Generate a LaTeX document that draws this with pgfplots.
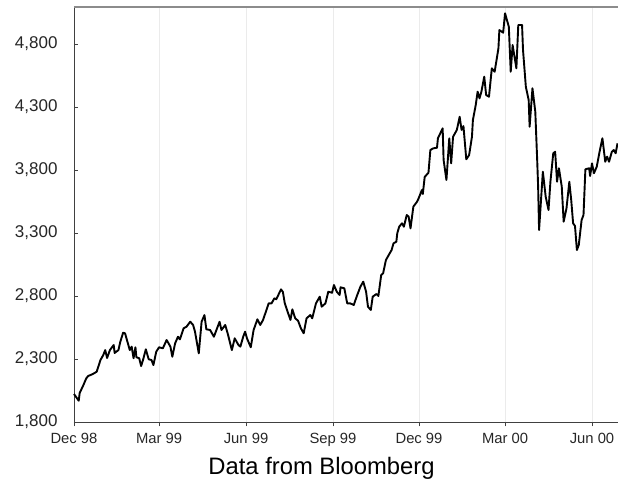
\documentclass[border=0pt]{standalone}
\usepackage{fontspec}
\setmainfont{Liberation Sans}
\usepackage{pgfplots}
\pgfplotsset{compat=1.18}
\begin{document}
\begin{tikzpicture}
\path[use as bounding box] (-74pt,-59pt) rectangle (544pt,422pt);
\begin{axis}[
  at={(0pt,0pt)}, anchor=south west,
  scale only axis,
  width=544pt, height=415pt,
  xmin=0, xmax=575.5,
  ymin=1800, ymax=5094,
  axis lines=left,
  axis line style={-, draw=black!75, line width=0.9pt},
  xtick={0,90,182,274,365,456,548},
  xticklabels={Dec 98,Mar 99,Jun 99,Sep 99,Dec 99,Mar 00,Jun 00},
  ytick={1800,2300,2800,3300,3800,4300,4800},
  /pgf/number format/assume math mode=true,
  /pgf/number format/.cd, 1000 sep={,}, /pgfplots/.cd,
  tick align=inside,
  major tick length=4.5pt,
  tick style={black!75, line width=0.8pt},
  xtick style={yshift=-4.5pt},
  xmajorgrids,
  major grid style={black!8, line width=0.8pt},
  yticklabel style={font=\fontsize{17}{19}\selectfont, text=black!85, xshift=-13pt},
  xticklabel style={font=\fontsize{14.8}{17}\selectfont, text=black!85, yshift=-8pt},
  clip=false,
]
\draw[black!45, line width=1.2pt] (rel axis cs:0,1) -- (rel axis cs:1,1);
\addplot[black, line width=1.9pt, line join=round] table {
d v
0 2022
5 1969
6 2030
10 2094
13 2147
15 2165
20 2181
24 2199
28 2292
31 2332
33 2371
35 2308
38 2371
42 2411
43 2348
47 2371
49 2437
52 2509
54 2504
56 2451
59 2371
61 2398
63 2306
65 2393
66 2314
69 2306
71 2244
73 2292
76 2377
79 2298
82 2292
84 2252
87 2358
90 2393
94 2385
98 2451
102 2398
104 2318
107 2425
110 2477
112 2456
116 2544
119 2556
123 2596
126 2570
128 2517
132 2345
135 2596
138 2649
140 2536
144 2530
148 2477
154 2596
156 2530
160 2570
163 2491
167 2371
170 2464
174 2411
176 2398
179 2477
181 2517
183 2464
187 2393
190 2530
194 2615
197 2570
200 2610
206 2742
209 2742
212 2782
214 2774
219 2853
221 2832
223 2742
226 2675
229 2610
231 2694
234 2623
237 2604
240 2544
243 2504
246 2623
250 2649
252 2623
256 2742
260 2795
262 2715
266 2742
269 2834
273 2826
275 2887
278 2834
281 2808
282 2869
286 2861
289 2742
292 2742
296 2729
299 2795
303 2874
306 2914
309 2834
311 2715
314 2689
316 2795
320 2816
322 2800
325 2967
327 2980
330 3086
334 3139
336 3165
338 3218
341 3231
342 3298
344 3350
347 3377
349 3350
352 3443
354 3430
356 3337
359 3509
363 3549
365 3583
368 3641
369 3610
371 3745
375 3779
377 3959
380 3972
384 3977
385 4052
390 4131
391 3880
394 3721
397 4052
399 3853
401 4064
405 4118
408 4223
410 4118
412 4149
415 3885
418 3919
421 4064
422 4197
425 4316
427 4422
429 4369
431 4422
434 4541
436 4395
439 4382
442 4607
445 4580
449 4766
450 4911
454 4890
456 5044
460 4937
462 4580
464 4792
468 4607
470 4951
474 4951
475 4753
478 4461
481 4356
482 4144
485 4449
488 4263
490 3880
491 3668
492 3324
496 3787
499 3588
502 3483
504 3707
507 3933
509 3945
511 3707
513 3814
516 3668
518 3390
521 3496
524 3707
526 3562
528 3377
530 3356
532 3165
534 3205
537 3403
539 3443
541 3806
545 3814
546 3753
548 3853
550 3774
553 3826
556 3945
559 4052
562 3866
564 3906
566 3866
569 3945
571 3959
573 3933
575 4012
};
\end{axis}
\node[font=\fontsize{23.8}{27}\selectfont, text=black, anchor=base] at (247.5pt,-53pt) {Data from Bloomberg};
\end{tikzpicture}
\end{document}
